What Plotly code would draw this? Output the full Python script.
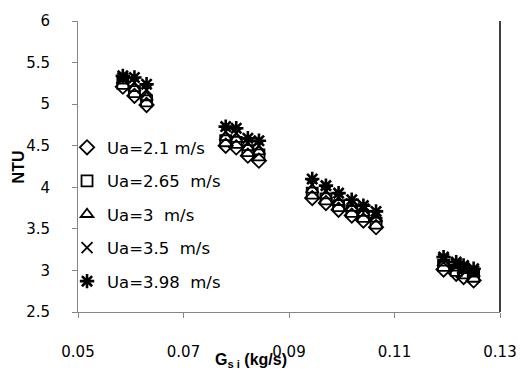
import plotly.graph_objects as go

# Shared mass-flow values (kg/s)
g_si = [0.0585, 0.0607, 0.0630,
        0.0780, 0.0800, 0.0822, 0.0843,
        0.0944, 0.0970, 0.0994, 0.1019, 0.1041, 0.1065,
        0.1193, 0.1217, 0.1231, 0.1250]

ntu_21 = [5.21, 5.10, 4.99,
          4.50, 4.48, 4.38, 4.32,
          3.87, 3.81, 3.73, 3.66, 3.60, 3.52,
          3.01, 2.96, 2.92, 2.88]
ntu_265 = [5.25, 5.15, 5.04,
           4.56, 4.54, 4.44, 4.39,
           3.93, 3.86, 3.78, 3.71, 3.65, 3.57,
           3.06, 3.00, 2.97, 2.93]
ntu_3 = [5.28, 5.19, 5.08,
         4.60, 4.58, 4.48, 4.43,
         3.97, 3.90, 3.82, 3.75, 3.69, 3.62,
         3.09, 3.03, 3.00, 2.96]
ntu_35 = [5.31, 5.26, 5.17,
          4.67, 4.65, 4.53, 4.50,
          4.03, 3.95, 3.87, 3.80, 3.74, 3.66,
          3.13, 3.07, 3.03, 2.99]
ntu_398 = [5.34, 5.32, 5.24,
           4.73, 4.71, 4.59, 4.56,
           4.10, 4.02, 3.93, 3.85, 3.78, 3.71,
           3.16, 3.10, 3.06, 3.02]

series_names = ["Ua=2.1 m/s", "Ua=2.65\u00a0 m/s", "Ua=3\u00a0 m/s",
                "Ua=3.5\u00a0 m/s", "Ua=3.98\u00a0 m/s"]
series_vals = [ntu_21, ntu_265, ntu_3, ntu_35, ntu_398]

x_ticks = [0.05, 0.07, 0.09, 0.11, 0.13]
x_ticktext = ["0.05", "0.07", "0.09", "0.11", "0.13"]
y_ticks = [2.5, 3, 3.5, 4, 4.5, 5, 5.5, 6]
y_ticktext = ["2.5", "3", "3.5", "4", "4.5", "5", "5.5", "6"]

symbols = ["diamond-open", "square-open", "triangle-up-open", "x-thin-open", "asterisk-open"]
sizes = [11, 11, 11, 11, 12]
widths = [1.8, 1.8, 1.8, 1.8, 2.6]

fig = go.Figure()
for i, (name, vals) in enumerate(zip(series_names, series_vals)):
    fig.add_trace(go.Scatter(
        x=g_si, y=vals, mode="markers", name=name,
        legendgroup=f"g{i}",
        marker=dict(symbol=symbols[i], size=sizes[i], color="black",
                    line=dict(color="black", width=widths[i])),
    ))

axis_font = dict(family="DejaVu Sans", size=15, color="black")

fig.update_layout(
    width=529, height=373,
    margin=dict(l=78, r=18, t=21, b=58),
    paper_bgcolor="white", plot_bgcolor="white",
    showlegend=True,
    legend=dict(x=-0.026, y=0.625, xanchor="left", yanchor="top",
                font=dict(family="DejaVu Sans", size=16.5, color="black"),
                bgcolor="rgba(0,0,0,0)", tracegroupgap=9,
                traceorder="grouped", itemwidth=30),
    xaxis=dict(range=[0.05, 0.13], tickvals=x_ticks, ticktext=x_ticktext,
               showgrid=False, zeroline=False, showline=True,
               linecolor="#868686", linewidth=1,
               ticks="outside", ticklen=5, tickcolor="#868686",
               tickfont=axis_font, ticklabelstandoff=21),
    yaxis=dict(range=[2.5, 6], tickvals=y_ticks, ticktext=y_ticktext,
               showgrid=False, zeroline=False, showline=True,
               linecolor="#868686", linewidth=1,
               ticks="outside", ticklen=5, tickcolor="#868686",
               tickfont=axis_font, ticklabelstandoff=19),
    shapes=[dict(type="line", xref="paper", yref="paper", x0=1, x1=1, y0=0, y1=1,
                 line=dict(color="black", width=1.5))],
    annotations=[
        dict(text="<b>NTU</b>", xref="paper", yref="paper", x=-0.14, y=0.5,
             xanchor="center", yanchor="middle", textangle=-90, showarrow=False,
             font=dict(family="Liberation Sans", size=16, color="black")),
        dict(text="<b>G<sub>s i</sub> (kg/s)</b>", xref="paper", yref="paper",
             x=0.41, y=-0.165, xanchor="center", yanchor="middle", showarrow=False,
             font=dict(family="Liberation Sans", size=16, color="black")),
    ],
)

fig.write_html("out.html")
